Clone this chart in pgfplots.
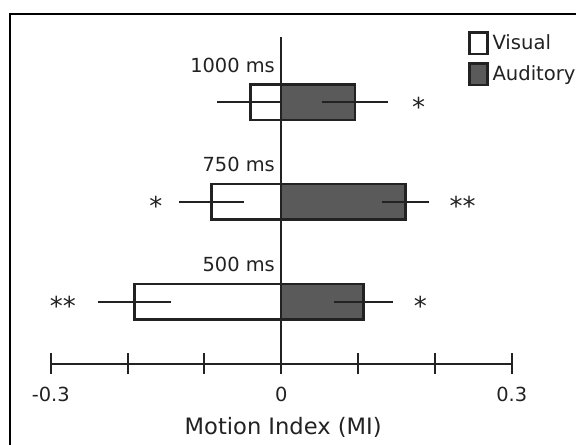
\documentclass[border=0pt]{standalone}
\usepackage{fontspec}
\setmainfont{DejaVu Sans}
\usepackage{pgfplots}
\usepackage{pgfplotstable}
\pgfplotsset{compat=1.18}
\definecolor{aud}{HTML}{5A5A5A}
\definecolor{ink}{HTML}{222222}

\pgfplotstableread{
pos v ve a ae
1 -0.191 0.048 0.107 0.038
2 -0.091 0.042 0.162 0.031
3 -0.040 0.043 0.096 0.043
}\mydata

\begin{document}
\begin{tikzpicture}
\path[use as bounding box] (0,0) rectangle (288pt,222pt);
\draw[line width=1pt, black] (5pt,-20pt) -- (5pt,215pt) -- (320pt,215pt);
\begin{axis}[
  at={(25.35pt,40.15pt)}, anchor=south west,
  scale only axis, width=230.5pt, height=163.35pt,
  xmin=-0.3, xmax=0.3, ymin=0.379, ymax=3.652,
  clip=false,
  axis x line*=bottom, axis y line*=middle,
  axis line style={line width=1pt, color=ink},
  xtick={-0.3,-0.2,-0.1,0,0.1,0.2,0.3},
  xticklabels={{-0.3},,,0,,,0.3},
  ytick=\empty,
  xtick align=center,
  major tick length=10.5pt,
  every tick/.style={line width=1pt, color=ink},
  xticklabel style={anchor=base, yshift=-13.8pt, font=\fontsize{9.7}{11}\selectfont, text=ink},
  xlabel={Motion Index (MI)},
  xlabel style={at={(axis description cs:0.5,0)}, anchor=base, yshift=-35.15pt, xshift=1pt, font=\fontsize{11.3}{13}\selectfont, text=ink},
  legend image code/.code={\draw[#1] (0pt,-5.4pt) rectangle (8.8pt,5.4pt);},
  legend style={draw=none, fill=none, at={(axis description cs:0.905,1.022)}, anchor=north west,
    font=\fontsize{9.8}{11}\selectfont, text=ink, inner sep=0pt, row sep=2.65pt,
    /tikz/every even column/.append style={column sep=1.5pt}},
  legend cell align=left,
]
\addplot[xbar, bar shift=0pt, bar width=0.356, fill=white, draw=ink, line width=1.3pt,
  error bars/.cd, x dir=both, x explicit, error mark=none,
  error bar style={line width=1pt, color=ink}]
  table[x=v, y=pos, x error=ve] {\mydata};
\addlegendentry{Visual}
\addplot[xbar, bar shift=0pt, bar width=0.356, fill=aud, draw=ink, line width=1.3pt,
  error bars/.cd, x dir=both, x explicit, error mark=none,
  error bar style={line width=1pt, color=ink}]
  table[x=a, y=pos, x error=ae] {\mydata};
\addlegendentry{Auditory}

\begin{scope}[every node/.style={inner sep=0pt, font=\fontsize{9.7}{11}\selectfont, text=ink}]
\node[anchor=base east, xshift=-3pt] at (axis cs:0,3.30) {1000 ms};
\node[anchor=base east, xshift=-3pt] at (axis cs:0,2.30) {750 ms};
\node[anchor=base east, xshift=-3pt] at (axis cs:0,1.30) {500 ms};
\end{scope}
\begin{scope}[every node/.style={inner sep=0pt, font=\fontsize{13}{15}\selectfont, text=ink}]
\node[anchor=base] at (axis cs:0.179,2.86) {*};
\node[anchor=base] at (axis cs:-0.163,1.86) {*};
\node[anchor=base] at (axis cs:0.236,1.86) {**};
\node[anchor=base] at (axis cs:-0.284,0.86) {**};
\node[anchor=base] at (axis cs:0.181,0.86) {*};
\end{scope}
\end{axis}
\end{tikzpicture}
\end{document}
